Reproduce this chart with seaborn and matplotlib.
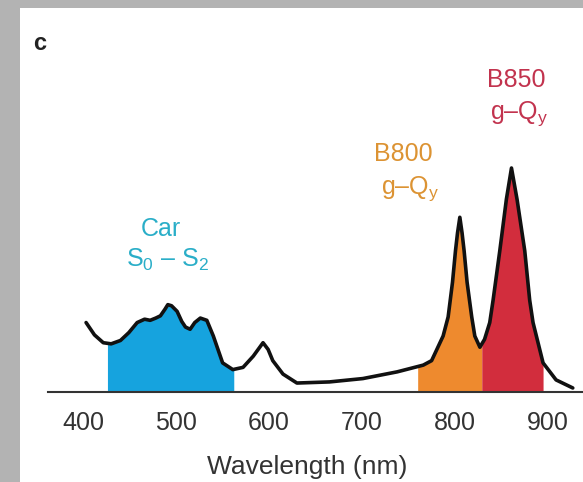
import numpy as np
import pandas as pd
import matplotlib
matplotlib.use("Agg")
import matplotlib.pyplot as plt
from matplotlib.patches import Rectangle
import seaborn as sns

# ---- data ----
wavelength = [403, 412, 421.5, 430, 440, 449, 458, 466, 472, 478, 483, 488, 491, 495, 501, 506,
              510, 515, 520, 526, 533, 540, 545,
              550, 561, 572, 583, 593.5, 599, 604, 615, 630, 665, 701, 738, 766, 775,
              787.4, 792.8, 797.5, 800.7, 802.9, 805.4, 807.8, 810, 813.2, 818.2,
              821.5, 827, 832, 837.6, 841.2, 848.4, 855.5, 861, 867, 875.3, 880.6,
              884.2, 895, 909, 927]
absorbance = [0.31, 0.255, 0.22, 0.215, 0.23, 0.265, 0.31, 0.325, 0.32, 0.33, 0.34, 0.37, 0.39, 0.385, 0.36, 0.315,
              0.29, 0.28, 0.31, 0.33, 0.32, 0.25, 0.19,
              0.13, 0.10, 0.11, 0.16, 0.22, 0.19, 0.14, 0.08, 0.04, 0.045, 0.06, 0.09, 0.12, 0.14,
              0.25, 0.335, 0.49, 0.63, 0.71, 0.78, 0.71, 0.63, 0.49, 0.335,
              0.25, 0.20, 0.235, 0.31, 0.41, 0.63, 0.86, 1.00, 0.86, 0.63, 0.41,
              0.31, 0.13, 0.054, 0.018]

band_names = ["Car", "B800", "B850"]
band_ranges = [(426, 562), (760, 829), (829, 895)]
band_colors = ["#16a3de", "#ee8a2e", "#d22d3d"]

label_lines = [["Car", r"S$_\mathrm{0}$ – S$_\mathrm{2}$"],
               ["B800", r"g–Q$_\mathrm{y}$"],
               ["B850", r"g–Q$_\mathrm{y}$"]]
label_pos = [(483, 0.728, 491, 0.589), (745, 1.0625, 751.6, 0.906), (865.6, 1.393, 868.8, 1.241)]
label_colors = ["#2aaec8", "#dc9333", "#c2334e"]

xticks = [400, 500, 600, 700, 800, 900]

# ---- plot ----
sns.set_style("white")
plt.rcParams['font.family'] = ['Liberation Sans', 'DejaVu Sans']
plt.rcParams['mathtext.fontset'] = 'custom'
plt.rcParams['mathtext.rm'] = 'Liberation Sans'
plt.rcParams['mathtext.it'] = 'Liberation Sans:italic'

fig = plt.figure(figsize=(5.83, 4.82), dpi=100)
fig.patch.set_facecolor('#b3b3b3')
bg = Rectangle((20/583, 0), 1, (482-8)/482, transform=fig.transFigure,
               facecolor='white', edgecolor='none', zorder=-10)
fig.patches.append(bg)
ax = fig.add_axes([48/583, 90/482, 1 - 48/583, (392-8)/482])
ax.set_zorder(5)
ax.set_facecolor('none')

df = pd.DataFrame({"wavelength": wavelength, "absorbance": absorbance})

wl = np.array(wavelength)
ab = np.array(absorbance)
for (lo, hi), col in zip(band_ranges, band_colors):
    xs = np.linspace(lo, hi, 200)
    ax.fill_between(xs, 0, np.interp(xs, wl, ab), color=col, lw=0, zorder=1)

sns.lineplot(data=df, x="wavelength", y="absorbance", color="#111111", lw=2.6,
             ax=ax, zorder=3, sort=True)
ax.lines[-1].set_solid_joinstyle('round')
ax.lines[-1].set_solid_capstyle('round')

for lines, (x1, y1, x2, y2), col in zip(label_lines, label_pos, label_colors):
    ax.text(x1, y1, lines[0], color=col, fontsize=18, ha='center', va='center')
    ax.text(x2, y2, lines[1], color=col, fontsize=18, ha='center', va='center')

ax.set_xlim(362, 938)
ax.set_ylim(0, 384/224)
ax.set_xticks(xticks)
ax.set_xticklabels([str(t) for t in xticks])
ax.set_yticks([])
for s in ['top', 'right', 'left']:
    ax.spines[s].set_visible(False)
ax.spines['bottom'].set_color('#333333')
ax.spines['bottom'].set_linewidth(1.5)
ax.tick_params(axis='x', direction='out', length=4, width=1, color='#555555',
               pad=10, labelsize=18, labelcolor='#333333')
ax.set_xlabel("Wavelength (nm)", fontsize=19, color='#333333')
ax.xaxis.set_label_coords((307 - 48) / 535, -(467 - 392) / 384, transform=ax.transAxes)
ax.xaxis.label.set_va('center')
ax.set_ylabel("")

fig.text(40/583, 1 - 44/482, "c", fontsize=17, fontweight='bold', color='#222222',
         ha='center', va='center', zorder=10)

fig.savefig("out.png", dpi=100, facecolor=fig.get_facecolor())
